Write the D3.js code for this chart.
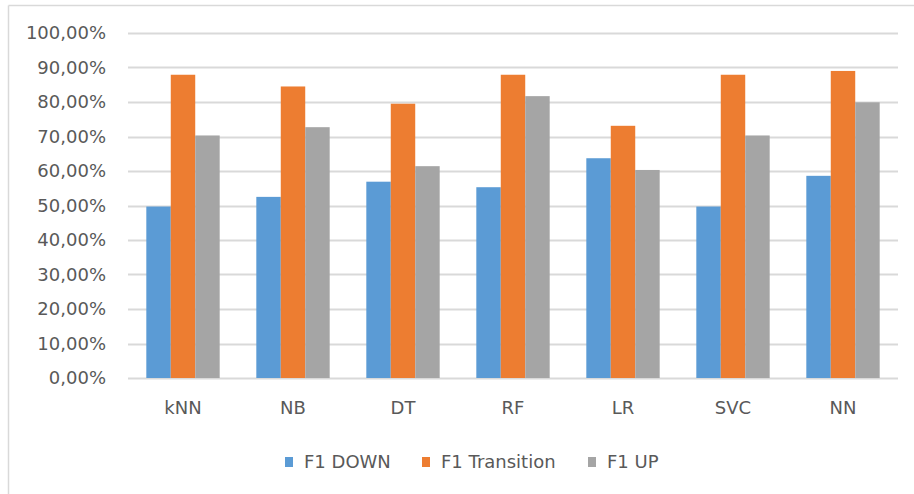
<!DOCTYPE html>
<html>
<head>
<meta charset="utf-8">
<script src="https://cdn.jsdelivr.net/npm/d3@7"></script>
<style>
  html, body { margin: 0; padding: 0; background: #ffffff; }
  svg { display: block; }
  text { font-family: "DejaVu Sans", sans-serif; fill: #595959; }
</style>
</head>
<body>
<svg id="chart" width="914" height="494"></svg>
<script>
// Classifiers on the x axis
const categories = ["kNN", "NB", "DT", "RF", "LR", "SVC", "NN"];
// F1 score per class, per classifier
const seriesNames = ["F1 DOWN", "F1 Transition", "F1 UP"];
const f1Down       = [0.497, 0.525, 0.569, 0.553, 0.637, 0.497, 0.586];
const f1Transition = [0.879, 0.845, 0.795, 0.879, 0.731, 0.879, 0.890];
const f1Up         = [0.703, 0.727, 0.614, 0.817, 0.603, 0.703, 0.799];
const yTicks = [0, 0.1, 0.2, 0.3, 0.4, 0.5, 0.6, 0.7, 0.8, 0.9, 1.0];
const colors = ["#5B9BD5", "#ED7D31", "#A5A5A5"];

const seriesValues = [f1Down, f1Transition, f1Up];

const svg = d3.select("#chart");
const W = 914, H = 494;
const plot = { left: 128, right: 898, top: 33, bottom: 378 };
const fontSize = "18px";

// Chart area frame (top and left edges)
svg.append("line").attr("x1", 8.5).attr("x2", W).attr("y1", 5.5).attr("y2", 5.5)
  .attr("stroke", "#D9D9D9").attr("stroke-width", 1.5);
svg.append("line").attr("x1", 8.5).attr("x2", 8.5).attr("y1", 5.5).attr("y2", H)
  .attr("stroke", "#D9D9D9").attr("stroke-width", 1.5);

const x = d3.scaleBand().domain(categories)
  .range([plot.left, plot.right]).paddingInner(0.333).paddingOuter(0.1665);
const xs = d3.scaleBand().domain(seriesNames).range([0, x.bandwidth()]).padding(0);
const y = d3.scaleLinear().domain([0, 1]).range([plot.bottom, plot.top]);

const locale = d3.formatLocale({ decimal: ",", thousands: ".", grouping: [3], currency: ["", " €"] });
const pct = locale.format(".2%");

// Gridlines
svg.append("g").selectAll("line").data(yTicks).join("line")
  .attr("x1", plot.left).attr("x2", plot.right)
  .attr("y1", d => Math.round(y(d)) + 0.5).attr("y2", d => Math.round(y(d)) + 0.5)
  .attr("stroke", "#D9D9D9").attr("stroke-width", 2);

// Y axis labels
const yAxis = d3.axisLeft(y).tickValues(yTicks).tickFormat(pct).tickSize(0).tickPadding(0);
const gy = svg.append("g").attr("transform", `translate(${plot.left - 22},0)`).call(yAxis);
gy.select(".domain").remove();
gy.selectAll("text").style("font-size", fontSize).style("fill", "#595959")
  .style("font-family", "DejaVu Sans, sans-serif");

// Bars
const groups = svg.append("g").selectAll("g").data(categories).join("g")
  .attr("transform", d => `translate(${x(d)},0)`);
groups.selectAll("rect")
  .data((c, i) => seriesNames.map((s, k) => ({ s, k, v: seriesValues[k][i] })))
  .join("rect")
  .attr("x", d => xs(d.s))
  .attr("width", xs.bandwidth())
  .attr("y", d => y(d.v))
  .attr("height", d => y(0) - y(d.v))
  .attr("fill", d => colors[d.k]);

// X axis labels
const xAxis = d3.axisBottom(x).tickSize(0).tickPadding(0);
const gx = svg.append("g").attr("transform", `translate(0,${plot.bottom + 23})`).call(xAxis);
gx.select(".domain").remove();
gx.selectAll("text").style("font-size", fontSize).style("fill", "#595959")
  .style("font-family", "DejaVu Sans, sans-serif");

// Legend
const legendX = [285, 422, 588];
const legend = svg.append("g").selectAll("g").data(seriesNames).join("g")
  .attr("transform", (d, i) => `translate(${legendX[i]},462)`);
legend.append("rect").attr("x", 0).attr("y", -5).attr("width", 8).attr("height", 10)
  .attr("fill", (d, i) => colors[i]);
legend.append("text").attr("x", 19).attr("y", 0).attr("dy", "0.35em")
  .style("font-size", fontSize).text(d => d);
</script>
</body>
</html>
